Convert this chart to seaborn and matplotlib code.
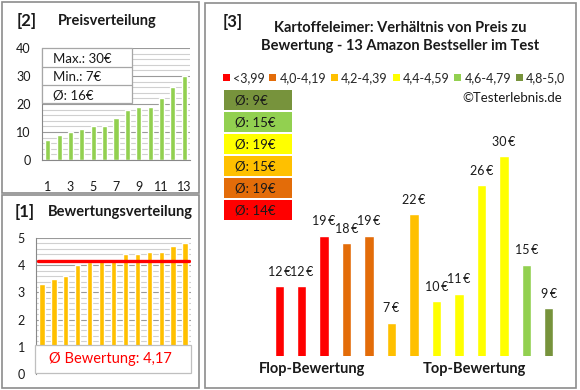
import numpy as np
import pandas as pd
import matplotlib
matplotlib.use("Agg")
import matplotlib.pyplot as plt
from matplotlib.patches import Rectangle, Patch
import seaborn as sns

# ---------------- data ----------------
products = list(range(1, 14))
prices_by_rating = [12, 12, 19, 18, 19, 7, 22, 10, 11, 26, 30, 15, 9]
ratings = [3.3, 3.5, 3.6, 4.0, 4.1, 4.2, 4.2, 4.4, 4.4, 4.5, 4.5, 4.7, 4.8]
categories = ["<3,99", "4,0-4,19", "4,2-4,39", "4,4-4,59", "4,6-4,79", "4,8-5,0"]
cat_colors = ["#FF0000", "#E36C09", "#FFC000", "#FFFF00", "#92D050", "#77933C"]
bar_category = ["<3,99", "<3,99", "<3,99", "4,0-4,19", "4,0-4,19", "4,2-4,39", "4,2-4,39",
                "4,4-4,59", "4,4-4,59", "4,4-4,59", "4,4-4,59", "4,6-4,79", "4,8-5,0"]
price_ticks = [0, 10, 20, 30, 40]
rating_ticks = [0, 1, 2, 3, 4, 5]
title3 = "Kartoffeleimer: Verhältnis von Preis zu\nBewertung - 13 Amazon Bestseller im Test"

sns.set_theme(style="white")
plt.rcParams['font.family'] = ['Lato', 'DejaVu Sans']

W, H = 580, 390
fig = plt.figure(figsize=(W / 100, H / 100), dpi=100)


def px_axes(x0, y0, x1, y1):
    return fig.add_axes([x0 / W, 1 - y1 / H, (x1 - x0) / W, (y1 - y0) / H])


TXT = "#1a1a1a"
GRID_MIN = "#d0d0d0"
GRID_MAJ = "#9a9a9a"

# ---------------- panel 2: price distribution ----------------
df_p = pd.DataFrame({"nr": products, "preis": sorted(prices_by_rating)})
ax2 = px_axes(42, 48, 190, 160)
for v in np.arange(0, 41, 2):
    ax2.axhline(v, color=GRID_MAJ if v % 10 == 0 else GRID_MIN, lw=0.8, zorder=0)
sns.barplot(data=df_p, x="nr", y="preis", color="#92D050", width=0.45,
            saturation=1, ax=ax2, zorder=2)
ax2.set_ylim(0, 40)
ax2.set_xlim(-0.5, 12.5)
ax2.set_yticks(price_ticks)
ax2.set_xticks(range(0, 13, 2))
ax2.set_xticklabels([str(p) for p in products[::2]])
ax2.tick_params(axis="x", pad=15, labelsize=9, colors=TXT, length=0)
ax2.tick_params(axis="y", pad=8, labelsize=9, colors=TXT, length=0)
ax2.set_xlabel("")
ax2.set_ylabel("")
for s in ["top", "right"]:
    ax2.spines[s].set_visible(False)
for s in ["left", "bottom"]:
    ax2.spines[s].set_color("#888888")
    ax2.spines[s].set_linewidth(0.8)

# ---------------- panel 1: rating distribution ----------------
df_r = pd.DataFrame({"nr": products, "bewertung": ratings})
ax1 = px_axes(36, 238, 191, 374)
for v in np.arange(0, 5.01, 0.2):
    major = abs(v - round(v)) < 1e-6
    ax1.axhline(v, color=GRID_MAJ if major else GRID_MIN, lw=0.8, zorder=0)
sns.barplot(data=df_r, x="nr", y="bewertung", color="#FFC000", width=0.45,
            saturation=1, ax=ax1, zorder=2)
mean_r = float(np.mean(ratings))
ax1.plot([-0.3, 12.3], [mean_r, mean_r], color="#FF0000", lw=2.4, zorder=3)
ax1.set_ylim(0, 5)
ax1.set_xlim(-0.5, 12.5)
ax1.set_yticks(rating_ticks)
ax1.set_xticks([])
ax1.tick_params(axis="y", pad=8, labelsize=9, colors=TXT, length=0)
ax1.set_xlabel("")
ax1.set_ylabel("")
for s in ["top", "right", "bottom"]:
    ax1.spines[s].set_visible(False)
ax1.spines["left"].set_color("#888888")
ax1.spines["left"].set_linewidth(0.8)

# ---------------- panel 3: price vs rating ----------------
df3 = pd.DataFrame({"pos": list(range(13)), "preis": prices_by_rating, "kat": bar_category})
ax3 = px_axes(268, 130, 560, 356)
sns.barplot(data=df3, x="pos", y="preis", hue="kat", hue_order=categories,
            palette=cat_colors, dodge=False, width=0.42, saturation=1,
            legend=False, ax=ax3)
ax3.set_ylim(2.4, 33.6)
ax3.set_xlim(-0.5, 12.5)
ax3.axis("off")
for i, p in enumerate(prices_by_rating):
    ax3.annotate(f"{p}\u2009€", (i, p), xytext=(0, 6), textcoords="offset points",
                 ha="center", va="bottom", fontsize=9, color=TXT, clip_on=False)

# ---------------- overlay: frames, boxes, texts ----------------
ov = fig.add_axes([0, 0, 1, 1])
ov.set_xlim(0, W)
ov.set_ylim(H, 0)
ov.axis("off")
ov.patch.set_alpha(0)

frame = dict(fill=False, edgecolor="#8c8c8c", lw=1.2)
ov.add_patch(Rectangle((1.5, 1.5), 197.5, 191, **frame))
ov.add_patch(Rectangle((1.5, 194.5), 197.5, 193.5, **frame))
ov.add_patch(Rectangle((205, 2.5), 370.5, 385.5, **frame))

# panel 2 texts & stats box
ov.text(17, 21, "[2]", fontsize=12, fontweight="bold", color=TXT, va="center")
ov.text(58, 21, "Preisverteilung", fontsize=10.5, fontweight="bold", color=TXT, va="center")
ov.add_patch(Rectangle((42, 48), 90, 55, facecolor="white", edgecolor="#a6a6a6", lw=0.9, zorder=5))
ov.plot([42, 132], [67, 67], color="#a6a6a6", lw=0.9, zorder=6)
ov.plot([42, 132], [85, 85], color="#a6a6a6", lw=0.9, zorder=6)
pmax, pmin = max(prices_by_rating), min(prices_by_rating)
pmean = int(np.mean(prices_by_rating) + 0.5)
for y, t in [(59, f"Max.: {pmax}€"), (77, f"Min.: {pmin}€"), (95, f"Ø: {pmean}€")]:
    ov.text(53, y, t, fontsize=9.5, color=TXT, va="center", zorder=7)

# panel 1 texts & mean box
ov.text(15, 212, "[1]", fontsize=12, fontweight="bold", color=TXT, va="center")
ov.text(48, 212, "Bewertungsverteilung", fontsize=10.5, fontweight="bold", color=TXT, va="center")
ov.add_patch(Rectangle((35, 345), 156, 28, facecolor="white", edgecolor="#bfbfbf", lw=0.9, zorder=5))
ov.text(110, 359, "Ø Bewertung: " + f"{mean_r:.2f}".replace(".", ","), fontsize=10.5,
        color="#FF0000", ha="center", va="center", zorder=7)

# panel 3 texts
ov.text(223, 22, "[3]", fontsize=12, fontweight="bold", color=TXT, va="center")
ov.text(400, 37, title3, fontsize=10.5, fontweight="bold", color=TXT, ha="center",
        va="center", linespacing=1.45)
ov.text(562, 98, "©Testerlebnis.de", fontsize=9.5, color=TXT, ha="right", va="center")
ov.text(312, 369, "Flop-Bewertung", fontsize=10.5, fontweight="bold", color=TXT, ha="center", va="center")
ov.text(474, 369, "Top-Bewertung", fontsize=10.5, fontweight="bold", color=TXT, ha="center", va="center")

handles = [Patch(facecolor=c, edgecolor="none") for c in cat_colors]
fig.legend(handles, categories, loc="center", bbox_to_anchor=(394 / W, 1 - 78 / H),
           ncol=6, frameon=False, fontsize=9, handlelength=0.55, handleheight=0.55,
           handletextpad=0.25, columnspacing=0.4, borderpad=0, borderaxespad=0)

# average-price boxes per category (top = best rating)
group_means = df3.groupby("kat")["preis"].mean()
for k, (cat, col) in enumerate(zip(categories[::-1], cat_colors[::-1])):
    y0 = 90 + k * 22
    ov.add_patch(Rectangle((224, y0), 68, 20, facecolor=col, edgecolor="none"))
    ov.text(235, y0 + 10.5, f"Ø: {int(group_means[cat] + 0.5)}€", fontsize=9.5,
            color=TXT, va="center")

fig.savefig("out.png", dpi=100, facecolor="white")
